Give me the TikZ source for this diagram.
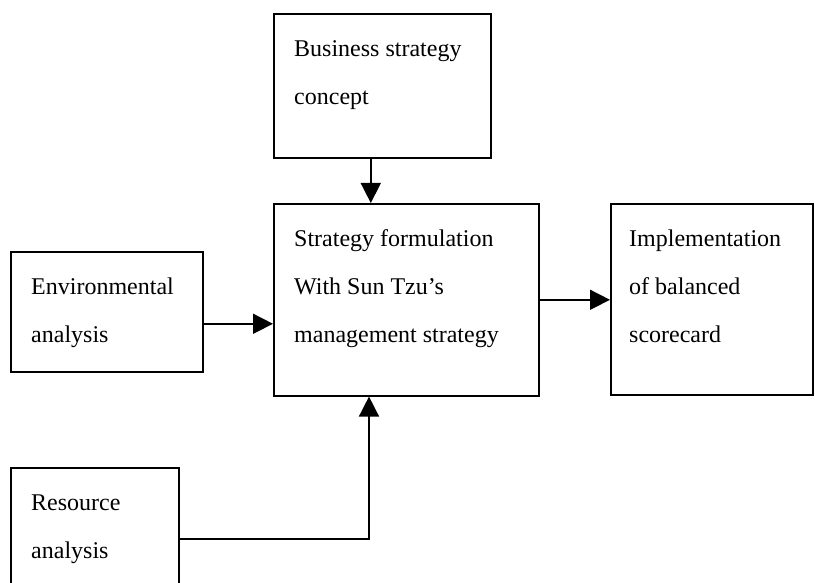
\documentclass[tikz,border=0pt]{standalone}
\usepackage{fontspec}
\setmainfont{Liberation Serif}
\usetikzlibrary{arrows.meta}
\begin{document}
\begin{tikzpicture}[x=1pt,y=1pt,
  box/.style={draw=black, line width=1.6pt, anchor=north west, inner sep=0pt},
  txt/.style={anchor=north west, inner sep=0pt, align=left, font=\fontsize{24}{48}\selectfont},
  arr/.style={line width=1.6pt, -{Triangle[length=20pt,width=20pt]}}]
\useasboundingbox (0,0) rectangle (815,583);
\begin{scope}
\clip (0,0) rectangle (815,583);
% boxes (y = 583 - pixel row)
\node[box, minimum width=217pt, minimum height=144pt] (bus) at (273,570) {};
\node[box, minimum width=265pt, minimum height=192pt] (strat) at (273,380) {};
\node[box, minimum width=202pt, minimum height=191pt] (impl) at (610,380) {};
\node[box, minimum width=192pt, minimum height=120pt] (env) at (10,332) {};
\node[box, minimum width=168pt, minimum height=140pt] (res) at (10,116) {};
\end{scope}
% texts
\node[txt] (bust) at ([shift={(21,-9.4)}]bus.north west) {\strut Business strategy\\\strut concept};
\node[txt] (stratt) at ([shift={(21,-9.4)}]strat.north west) {\strut Strategy formulation\\\strut With Sun Tzu’s\\\strut management strategy};
\node[txt] (implt) at ([shift={(19,-9.4)}]impl.north west) {\strut Implementation\\\strut of balanced\\\strut scorecard};
\node[txt] (envt) at ([shift={(21,-9.4)}]env.north west) {\strut Environmental\\\strut analysis};
\node[txt] (rest) at ([shift={(21,-9.4)}]res.north west) {\strut Resource\\\strut analysis};
% connectors
\draw[arr] ([xshift=-11.5pt]bus.south) -- ([xshift=-11.5pt]bus.south |- strat.north);
\draw[arr] ([yshift=-12pt]env.east) -- ([yshift=-12pt]env.east -| strat.west);
\draw[arr] (strat.east) -- (strat.east -| impl.west);
\coordinate (rturn) at (369,44);
\draw[arr] (rturn -| res.east) -- (rturn) -- (rturn |- strat.south);
\end{tikzpicture}
\end{document}
